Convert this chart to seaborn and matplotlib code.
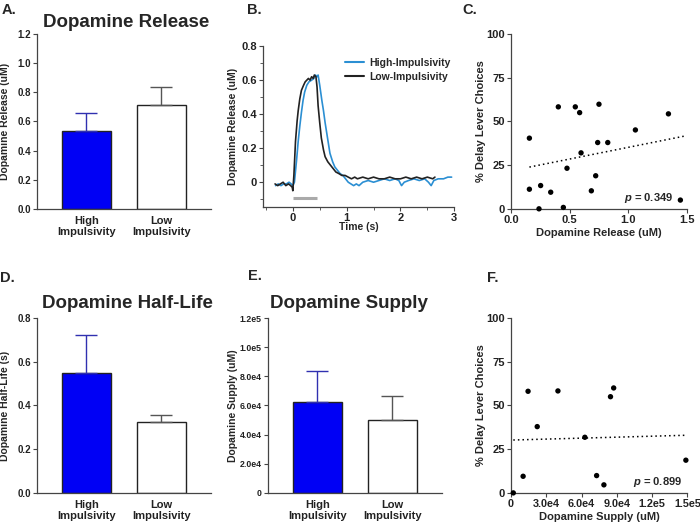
import numpy as np
import pandas as pd
import seaborn as sns
from matplotlib import pyplot as plt

# ---- data ---- #
groups = ["High\nImpulsivity", "Low\nImpulsivity"]

release_mean = [0.535, 0.715]
release_sem = [0.120, 0.120]

halflife_mean = [0.547, 0.325]
halflife_sem = [0.175, 0.033]

supply_mean = [62400, 50300]
supply_sem = [21500, 16000]

# panel B traces
t_high = [-0.32, -0.27, -0.22, -0.17, -0.12, -0.07, -0.03, 0.0, 0.03, 0.07, 0.10, 0.13, 0.16, 0.19, 0.22, 0.26,
          0.30, 0.35, 0.39, 0.42, 0.45, 0.47, 0.50, 0.54, 0.57, 0.60, 0.63, 0.66, 0.69, 0.74, 0.78, 0.83,
          0.88, 0.93, 0.98, 1.03, 1.08, 1.13, 1.18, 1.23, 1.3, 1.4, 1.5, 1.6, 1.7, 1.8, 1.9, 1.97,
          2.02, 2.07, 2.15, 2.25, 2.35, 2.45, 2.52, 2.57, 2.62, 2.7, 2.8, 2.88, 2.95]
v_high = [-0.02, -0.01, -0.02, -0.01, -0.01, 0.00, -0.01, -0.02, 0.00, 0.13, 0.24, 0.33, 0.41, 0.48, 0.53, 0.57,
          0.59, 0.60, 0.61, 0.63, 0.62, 0.63, 0.57, 0.48, 0.42, 0.35, 0.29, 0.23, 0.17, 0.12, 0.09, 0.07,
          0.05, 0.04, 0.02, 0.00, -0.01, -0.02, -0.01, -0.02, 0.00, 0.01, 0.00, 0.01, 0.02, 0.01, 0.02, 0.01,
          -0.02, 0.00, 0.01, 0.02, 0.01, 0.02, 0.00, -0.02, 0.01, 0.02, 0.02, 0.03, 0.03]
t_low = [-0.33, -0.28, -0.23, -0.18, -0.13, -0.08, -0.04, -0.01, 0.0, 0.02, 0.05, 0.08, 0.10, 0.13, 0.16, 0.20,
         0.23, 0.26, 0.29, 0.32, 0.35, 0.38, 0.40, 0.43, 0.45, 0.47, 0.50, 0.53, 0.57, 0.60, 0.65, 0.70,
         0.75, 0.80, 0.86, 0.91, 0.97, 1.03, 1.09, 1.15, 1.2, 1.3, 1.4, 1.5, 1.6, 1.7, 1.8, 1.9,
         2.0, 2.1, 2.2, 2.3, 2.4, 2.5, 2.6, 2.64]
v_low = [-0.01, -0.02, -0.01, 0.00, -0.02, -0.01, -0.02, -0.03, -0.05, 0.04, 0.24, 0.36, 0.42, 0.49, 0.54, 0.57,
         0.59, 0.60, 0.61, 0.60, 0.62, 0.61, 0.63, 0.62, 0.56, 0.45, 0.35, 0.26, 0.19, 0.15, 0.12, 0.10,
         0.08, 0.06, 0.05, 0.04, 0.04, 0.03, 0.02, 0.03, 0.02, 0.03, 0.02, 0.03, 0.02, 0.02, 0.03, 0.02,
         0.02, 0.03, 0.02, 0.03, 0.02, 0.03, 0.02, 0.03]
stim_window = [0.0, 0.45]
stim_level = -0.095

# panel C scatter
c_release = [0.157, 0.157, 0.239, 0.253, 0.339, 0.404, 0.447, 0.478, 0.549, 0.586,
             0.598, 0.686, 0.723, 0.740, 0.751, 0.826, 1.062, 1.344, 1.446]
c_delay = [40.4, 11.2, 0.0, 13.3, 9.5, 58.3, 0.8, 23.2, 58.3, 55.0,
           32.0, 10.3, 18.9, 37.9, 59.8, 37.9, 45.1, 54.3, 5.0]
c_p = "0.349"

# panel F scatter
f_supply = [1950, 10300, 14500, 22300, 39900, 62800, 72800, 79000, 84600, 87300, 148700]
f_delay = [0.0, 9.5, 58.1, 37.9, 58.3, 31.8, 9.9, 4.6, 55.0, 60.0, 18.7]
f_p = "0.899"

# ---- style ---- #
sns.set_style("ticks")
plt.rcParams['font.family'] = ['Liberation Sans', 'DejaVu Sans']
plt.rcParams['font.weight'] = 'bold'
plt.rcParams['axes.labelweight'] = 'bold'
plt.rcParams['mathtext.fontset'] = 'custom'
plt.rcParams['mathtext.it'] = 'Liberation Sans:italic:bold'
plt.rcParams['mathtext.rm'] = 'Liberation Sans:bold'
plt.rcParams['axes.edgecolor'] = '#444444'
plt.rcParams['xtick.color'] = '#444444'
plt.rcParams['ytick.color'] = '#444444'
plt.rcParams['xtick.labelcolor'] = '#222222'
plt.rcParams['ytick.labelcolor'] = '#222222'
plt.rcParams['xtick.major.size'] = 3
plt.rcParams['ytick.major.size'] = 3
plt.rcParams['xtick.major.pad'] = 1.5
plt.rcParams['ytick.major.pad'] = 1.5
plt.rcParams['xtick.labelsize'] = 7
plt.rcParams['ytick.labelsize'] = 7
plt.rcParams['axes.linewidth'] = 0.9

BLUE = '#0000f5'
TRACE_BLUE = '#2b8fd3'

fig = plt.figure(figsize=(7, 5.3), dpi=100)

axA = fig.add_axes([0.053, 0.606, 0.249, 0.330])
axB = fig.add_axes([0.376, 0.609, 0.273, 0.304])
axC = fig.add_axes([0.730, 0.606, 0.251, 0.330])
axD = fig.add_axes([0.053, 0.070, 0.249, 0.330])
axE = fig.add_axes([0.383, 0.070, 0.249, 0.330])
axF = fig.add_axes([0.730, 0.070, 0.252, 0.330])


def barpanel(ax, means, sems, ylim, yticks, yticklabels, ylabel, labx, ysize=7):
    df = pd.DataFrame({"group": groups, "value": means})
    sns.barplot(data=df, x="group", y="value", hue="group", palette=[BLUE, "white"],
                saturation=1, edgecolor="#222222", linewidth=1.0, width=0.66,
                legend=False, ax=ax)
    for i, (m, s) in enumerate(zip(means, sems)):
        col = '#3030b0' if i == 0 else '#555555'
        ax.errorbar(i, m, yerr=[[0], [s]], color=col, capsize=8, elinewidth=1.0,
                    capthick=1.0, zorder=1)
    ax.set_xlim(-0.66, 1.67)
    ax.set_ylim(*ylim)
    ax.set_yticks(yticks)
    ax.set_yticklabels(yticklabels)
    ax.set_xlabel("")
    ax.set_ylabel(ylabel, fontsize=7.5)
    ax.yaxis.set_label_coords(labx, 0.5)
    ax.tick_params(axis='x', length=0, labelsize=8, pad=5)
    ax.tick_params(axis='y', labelsize=ysize)
    for lab in ax.get_xticklabels():
        lab.set_linespacing(1.1)
    sns.despine(ax=ax)


barpanel(axA, release_mean, release_sem, (0, 1.2), np.arange(0, 1.21, 0.2),
         ["0.0", "0.2", "0.4", "0.6", "0.8", "1.0", "1.2"], "Dopamine Release (uM)", -0.155)
barpanel(axD, halflife_mean, halflife_sem, (0, 0.8), np.arange(0, 0.81, 0.2),
         ["0.0", "0.2", "0.4", "0.6", "0.8"], "Dopamine Half-Life (s)", -0.155)
barpanel(axE, supply_mean, supply_sem, (0, 120000), np.arange(0, 120001, 20000),
         ["0", "2.0e4", "4.0e4", "6.0e4", "8.0e4", "1.0e5", "1.2e5"], "Dopamine Supply (uM)",
         -0.172, ysize=6.3)

# panel B
traces = pd.concat([
    pd.DataFrame({"t": t_high, "v": v_high, "group": "High-Impulsivity"}),
    pd.DataFrame({"t": t_low, "v": v_low, "group": "Low-Impulsivity"}),
])
sns.lineplot(data=traces, x="t", y="v", hue="group", palette=[TRACE_BLUE, "#222222"],
             estimator=None, sort=False, linewidth=1.2, ax=axB)
axB.hlines(stim_level, stim_window[0], stim_window[1], color="#aaaaaa", linewidth=2.2)
axB.set_xlim(-0.55, 3.0)
axB.set_ylim(-0.147, 0.8)
axB.set_xticks([0, 1, 2, 3])
axB.set_xticks([-0.5, 0.5, 1.5, 2.5], minor=True)
axB.set_yticks([0, 0.2, 0.4, 0.6, 0.8])
axB.set_yticklabels(["0", "0.2", "0.4", "0.6", "0.8"])
axB.set_yticks([-0.1, 0.1, 0.3, 0.5, 0.7], minor=True)
axB.tick_params(labelsize=8)
axB.tick_params(which='minor', length=2.5, color='#444444')
axB.set_xlabel("Time (s)", fontsize=7.5)
axB.set_ylabel("Dopamine Release (uM)", fontsize=7.5)
axB.yaxis.set_label_coords(-0.131, 0.5)
axB.xaxis.set_label_coords(0.5, -0.093)
leg = axB.legend(loc="upper right", bbox_to_anchor=(1.03, 0.985), frameon=False, fontsize=7.5,
                 handlelength=1.8, handletextpad=0.5, labelspacing=0.35)
for line in leg.get_lines():
    line.set_linewidth(1.5)
sns.despine(ax=axB)


def scatterpanel(ax, x, y, xlim, xticks, xticklabels, xlabel, pval, ptext_x, labx):
    sns.scatterplot(x=x, y=y, color="black", s=15, edgecolor="none", clip_on=False,
                    zorder=3, ax=ax)
    ax.set_xlim(*xlim)
    ax.set_ylim(0, 100)
    slope, icpt = np.polyfit(x, y, 1)
    xs = np.array([min(x), xlim[1]])
    ax.plot(xs, slope * xs + icpt, linestyle=(0, (1, 2)), color="black", linewidth=1.1)
    ax.set_xticks(xticks)
    ax.set_xticklabels(xticklabels)
    ax.set_yticks([0, 25, 50, 75, 100])
    ax.tick_params(labelsize=8)
    ax.set_xlabel(xlabel, fontsize=8)
    ax.set_ylabel("% Delay Lever Choices", fontsize=8)
    ax.yaxis.set_label_coords(labx, 0.5)
    ax.xaxis.set_label_coords(0.5, -0.108)
    ax.text(ptext_x, 0.06, "$p$ = " + pval, transform=ax.transAxes, ha="right",
            va="center", fontsize=8, fontweight="bold")
    sns.despine(ax=ax)


scatterpanel(axC, c_release, c_delay, (0, 1.5), [0, 0.5, 1.0, 1.5],
             ["0.0", "0.5", "1.0", "1.5"], "Dopamine Release (uM)", c_p, 0.92, -0.142)
scatterpanel(axF, f_supply, f_delay, (0, 150000), [0, 30000, 60000, 90000, 120000, 150000],
             ["0", "3.0e4", "6.0e4", "9.0e4", "1.2e5", "1.5e5"], "Dopamine Supply (uM)", f_p, 0.97, -0.14)
axF.tick_params(axis='x', labelsize=7.8)

# titles and panel letters
fig.text(0.18, 0.958, "Dopamine Release", ha="center", va="center", fontsize=13.5, fontweight="bold")
fig.text(0.182, 0.428, "Dopamine Half-Life", ha="center", va="center", fontsize=13.5, fontweight="bold")
fig.text(0.499, 0.428, "Dopamine Supply", ha="center", va="center", fontsize=13.5, fontweight="bold")

for lx, ly, letter in [(0.003, 0.995, "A."), (0.353, 0.995, "B."), (0.661, 0.995, "C."),
                       (0.0, 0.488, "D."), (0.354, 0.492, "E."), (0.696, 0.488, "F.")]:
    fig.text(lx, ly, letter, ha="left", va="top", fontsize=10.5, fontweight="bold")

fig.savefig("out.png", dpi=100)
